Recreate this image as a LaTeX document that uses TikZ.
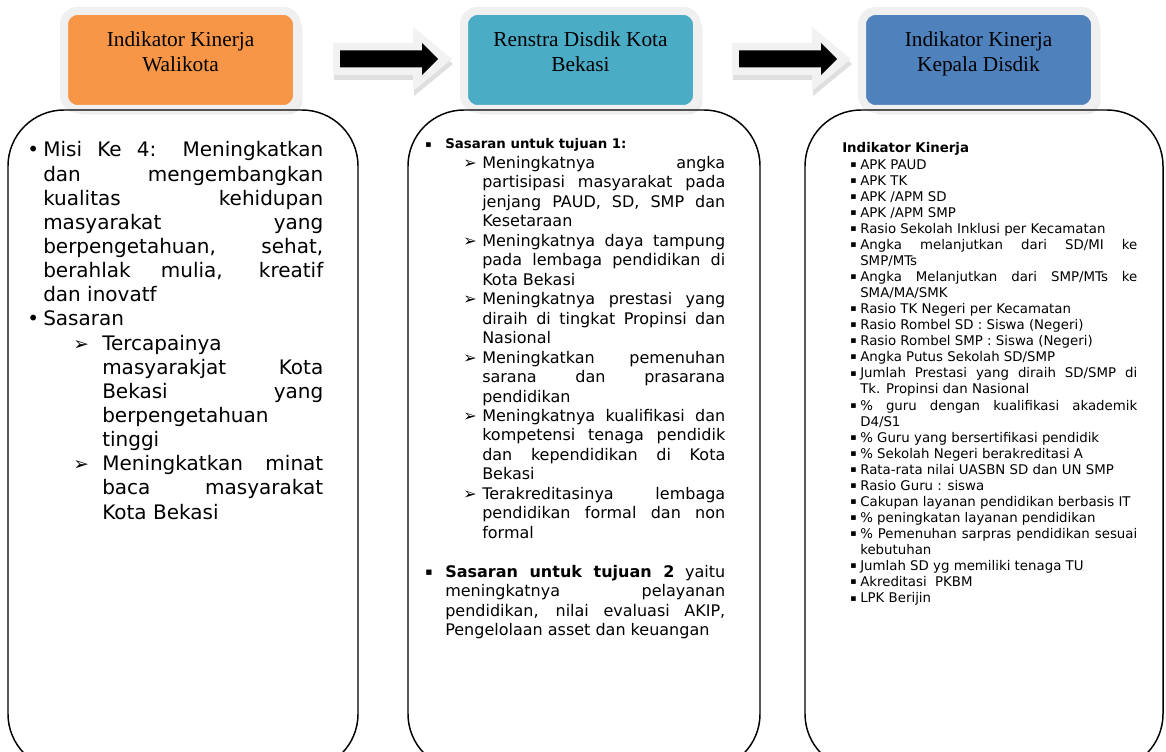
\documentclass[tikz,border=0pt]{standalone}
\usepackage{fontspec}
\setmainfont{DejaVu Sans}
\newfontfamily\hdfont{Liberation Serif}
\usetikzlibrary{calc,shadows}
\definecolor{hdorange}{RGB}{247,150,70}
\definecolor{hdteal}{RGB}{75,172,198}
\definecolor{hdblue}{RGB}{79,129,189}
\tolerance=10000 \hbadness=10000 \hfuzz=3pt
\hyphenpenalty=10000 \exhyphenpenalty=10000
% Listenpunkt: Abstand Zeichen, Abstand Text, Zeichen, Text
\newcommand{\lstitem}[4]{\noindent\hangindent=#2\relax\hangafter=1\relax\hspace*{#1}\makebox[\dimexpr#2-#1\relax][l]{#3}#4\par}
% kleines Quadrat als Aufzaehlungszeichen
\newcommand{\sqbul}[1]{\raisebox{1.4pt}{\fontsize{#1}{#1}\selectfont ▪}}

\begin{document}
\begin{tikzpicture}[x=0.75pt, y=0.75pt,
				hdbox/.style={draw=black!6, line width=6pt, rounded corners=10pt,
					minimum width=174.75pt, minimum height=73.5pt,
					drop shadow={shadow xshift=4pt, shadow yshift=-4pt, fill=black!15}},
				hdtext/.style={font=\hdfont\fontsize{16}{18.75}\selectfont, align=center, anchor=base, inner sep=0pt},
				bodybox/.style={draw, line width=1.1pt, rounded corners=42pt, minimum height=495pt},
				bodytext/.style={anchor=base west, inner sep=0pt, align=justify},
				arrglow/.style={fill=black!5, drop shadow={shadow xshift=0.75pt, shadow yshift=-3.75pt, fill=black!25}},
				arrblack/.style={fill=black}]
				%Bildbereich
				\useasboundingbox (0,0) rectangle (1166,-752);
				\clip (0,0) rectangle (1166,-752);
				% Kopfkaesten
				\node[hdbox, fill=hdorange] (hdWali) at (180.5,-60) {};
				\node[hdbox, fill=hdteal] (hdRenstra) at (580.5,-60) {};
				\node[hdbox, fill=hdblue] (hdKadis) at (978.5,-60) {};
				\node[hdtext] (tWali) at ($(hdWali.center)+(0,-12)$) {Indikator Kinerja\\Walikota};
				\node[hdtext] (tRenstra) at ($(hdRenstra.center)+(0,-12)$) {Renstra Disdik Kota\\Bekasi};
				\node[hdtext] (tKadis) at ($(hdKadis.center)+(0,-12)$) {Indikator Kinerja\\Kepala Disdik};
				% Blockpfeile zwischen den Kopfkaesten
				\foreach \von/\nach in {hdWali/hdRenstra, hdRenstra/hdKadis}{
					\coordinate (m\von) at ($(\von.east)!0.5!(\nach.west)+(11.5,1)$);
					\begin{scope}[shift={(m\von)}]
						\fill[arrglow] (-59,16) -- (21,16) -- (21,32) -- (60,0) -- (21,-32) -- (21,-16) -- (-59,-16) -- cycle;
						\fill[arrblack] (-52,8.5) -- (30,8.5) -- (30,16) -- (46,0) -- (30,-16) -- (30,-8.5) -- (-52,-8.5) -- cycle;
					\end{scope}
				}
				% Textkaesten
				\node[bodybox, minimum width=262.5pt] (bdWali) at (183,-440) {};
				\node[bodybox, minimum width=264pt] (bdRenstra) at (584,-440) {};
				\node[bodybox, minimum width=268.5pt] (bdKadis) at (984,-440) {};
				% Texte
				\node[bodytext, text width=222pt, font=\fontsize{15}{18.1}\selectfont] (xWali) at (27,-157) {%
					\lstitem{0pt}{12pt}{•}{Misi Ke 4: Meningkatkan\linebreak dan mengembangkan\linebreak kualitas kehidupan\linebreak masyarakat yang\linebreak berpengetahuan, sehat,\linebreak berahlak mulia, kreatif\linebreak dan inovatf}
					\lstitem{0pt}{12pt}{•}{Sasaran}
					\lstitem{34.5pt}{56.25pt}{{\fontsize{14}{14}\selectfont ➢}}{Tercapainya\linebreak masyarakjat Kota\linebreak Bekasi yang\linebreak berpengetahuan\linebreak tinggi}
					\lstitem{34.5pt}{56.25pt}{{\fontsize{14}{14}\selectfont ➢}}{Meningkatkan minat\linebreak baca masyarakat\linebreak Kota Bekasi}};
				\node[bodytext, text width=225pt, font=\fontsize{12}{14.6}\selectfont] (xRenstra) at (425,-149) {%
					\lstitem{0pt}{15pt}{\sqbul{7}}{\textbf{\fontsize{10}{12}\selectfont Sasaran untuk tujuan 1:}}
					\lstitem{28.5pt}{42.75pt}{{\fontsize{12}{12}\selectfont ➢}}{Meningkatnya angka\linebreak partisipasi masyarakat pada\linebreak jenjang PAUD, SD, SMP dan\linebreak Kesetaraan}
					\lstitem{28.5pt}{42.75pt}{{\fontsize{12}{12}\selectfont ➢}}{Meningkatnya daya tampung\linebreak pada lembaga pendidikan di\linebreak Kota Bekasi}
					\lstitem{28.5pt}{42.75pt}{{\fontsize{12}{12}\selectfont ➢}}{Meningkatnya prestasi yang\linebreak diraih di tingkat Propinsi dan\linebreak Nasional}
					\lstitem{28.5pt}{42.75pt}{{\fontsize{12}{12}\selectfont ➢}}{Meningkatkan pemenuhan\linebreak sarana dan prasarana\linebreak pendidikan}
					\lstitem{28.5pt}{42.75pt}{{\fontsize{12}{12}\selectfont ➢}}{Meningkatnya kualifikasi dan\linebreak kompetensi tenaga pendidik\linebreak dan kependidikan di Kota\linebreak Bekasi}
					\lstitem{28.5pt}{42.75pt}{{\fontsize{12}{12}\selectfont ➢}}{Terakreditasinya lembaga\linebreak pendidikan formal dan non\linebreak formal}
					\vspace{14.6pt}
					\lstitem{0pt}{15pt}{\sqbul{8}}{\textbf{Sasaran untuk tujuan 2} yaitu\linebreak meningkatnya pelayanan\linebreak pendidikan, nilai evaluasi AKIP,\linebreak Pengelolaan asset dan keuangan}};
				\node[bodytext, text width=221.25pt, font=\fontsize{10}{12.05}\selectfont] (xKadis) at (842,-153) {%
					\noindent\textbf{Indikator Kinerja}\par
					\lstitem{6pt}{13.5pt}{\sqbul{7}}{APK PAUD}
					\lstitem{6pt}{13.5pt}{\sqbul{7}}{APK TK}
					\lstitem{6pt}{13.5pt}{\sqbul{7}}{APK /APM SD}
					\lstitem{6pt}{13.5pt}{\sqbul{7}}{APK /APM SMP}
					\lstitem{6pt}{13.5pt}{\sqbul{7}}{Rasio Sekolah Inklusi per Kecamatan}
					\lstitem{6pt}{13.5pt}{\sqbul{7}}{Angka melanjutkan dari SD/MI ke\linebreak SMP/MTs}
					\lstitem{6pt}{13.5pt}{\sqbul{7}}{Angka Melanjutkan dari SMP/MTs ke\linebreak SMA/MA/SMK}
					\lstitem{6pt}{13.5pt}{\sqbul{7}}{Rasio TK Negeri per Kecamatan}
					\lstitem{6pt}{13.5pt}{\sqbul{7}}{Rasio Rombel SD : Siswa (Negeri)}
					\lstitem{6pt}{13.5pt}{\sqbul{7}}{Rasio Rombel SMP : Siswa (Negeri)}
					\lstitem{6pt}{13.5pt}{\sqbul{7}}{Angka Putus Sekolah SD/SMP}
					\lstitem{6pt}{13.5pt}{\sqbul{7}}{Jumlah Prestasi yang diraih SD/SMP di\linebreak Tk. Propinsi dan Nasional}
					\lstitem{6pt}{13.5pt}{\sqbul{7}}{\% guru dengan kualifikasi akademik\linebreak D4/S1}
					\lstitem{6pt}{13.5pt}{\sqbul{7}}{\% Guru yang bersertifikasi pendidik}
					\lstitem{6pt}{13.5pt}{\sqbul{7}}{\% Sekolah Negeri berakreditasi A}
					\lstitem{6pt}{13.5pt}{\sqbul{7}}{Rata-rata nilai UASBN SD dan UN SMP}
					\lstitem{6pt}{13.5pt}{\sqbul{7}}{Rasio Guru : siswa}
					\lstitem{6pt}{13.5pt}{\sqbul{7}}{Cakupan layanan pendidikan berbasis IT}
					\lstitem{6pt}{13.5pt}{\sqbul{7}}{\% peningkatan layanan pendidikan}
					\lstitem{6pt}{13.5pt}{\sqbul{7}}{\% Pemenuhan sarpras pendidikan sesuai\linebreak kebutuhan}
					\lstitem{6pt}{13.5pt}{\sqbul{7}}{Jumlah SD yg memiliki tenaga TU}
					\lstitem{6pt}{13.5pt}{\sqbul{7}}{Akreditasi~~PKBM}
					\lstitem{6pt}{13.5pt}{\sqbul{7}}{LPK Berijin}};
			\end{tikzpicture}
\end{document}
